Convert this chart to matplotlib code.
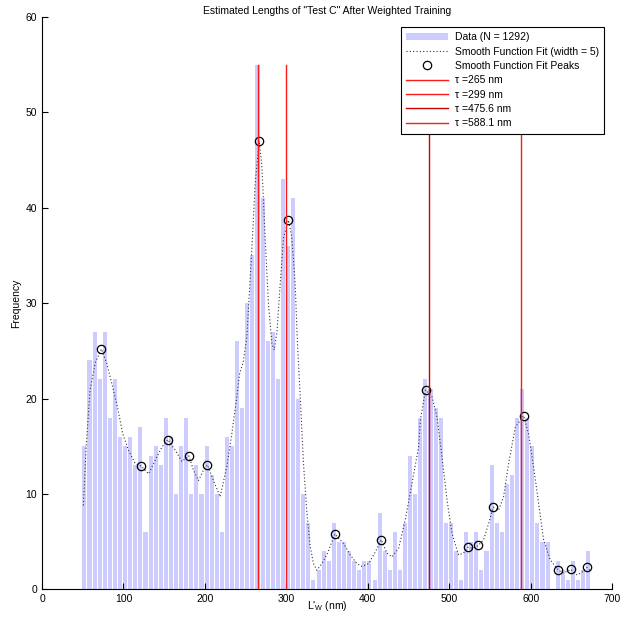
import numpy as np
import matplotlib
matplotlib.use('Agg')
import matplotlib.pyplot as plt

plt.rcParams['font.family'] = ['Liberation Sans', 'DejaVu Sans']
plt.rcParams['mathtext.fontset'] = 'custom'
plt.rcParams['mathtext.rm'] = 'Liberation Sans'
plt.rcParams['mathtext.it'] = 'Liberation Sans:italic'

# histogram counts, 100 bins
counts = [15, 24, 27, 22, 27, 18, 22, 16, 15, 16,
          13, 17, 6, 14, 15, 13, 18, 16, 10, 15,
          18, 10, 13, 10, 15, 12, 10, 6, 16, 15,
          26, 19, 30, 35, 55, 41, 26, 27, 22, 43,
          36, 41, 20, 10, 7, 1, 2, 4, 3, 7,
          5, 5, 4, 3, 2, 3, 3, 1, 8, 4,
          2, 6, 2, 7, 14, 10, 18, 22, 21, 19,
          18, 7, 7, 4, 1, 6, 5, 6, 2, 4,
          13, 7, 6, 11, 12, 18, 21, 18, 15, 7,
          5, 5, 0, 3, 2, 1, 3, 1, 2, 4]
first_center = 52.0
bin_width = 6.25

# smooth fit curve
fit_x = [50.8, 54.1, 59.0, 65.5, 72.9, 79.4, 85.6, 92.6, 99.1, 106.0,
         114.3, 122.0, 130.7, 138.8, 147.0, 154.4, 163.5, 171.6, 180.2, 185.9,
         192.0, 198.2, 203.0, 210.5, 218.7, 226.9, 233.0, 239.2, 242.5, 247.0,
         251.5, 257.6, 261.7, 266.6, 269.9, 274.0, 278.0, 282.2, 285.0, 288.5,
         292.4, 296.5, 302.6, 306.7, 310.8, 313.6, 317.0, 321.0, 325.2, 329.2,
         333.3, 337.4, 343.6, 350.5, 359.6, 370.2, 378.4, 386.6, 392.7, 400.9,
         409.1, 416.5, 423.4, 429.6, 437.8, 446.0, 454.2, 462.3, 464.4, 470.9,
         478.7, 484.9, 491.0, 497.2, 503.3, 511.4, 517.6, 522.5, 529.0, 535.6,
         542.2, 548.3, 554.0, 560.6, 566.7, 572.9, 581.1, 591.3, 597.4, 603.6,
         609.7, 615.8, 624.0, 634.0, 640.4, 649.0, 656.9, 663.0, 668.7, 673.2]
fit_y = [8.8, 14.9, 20.9, 23.8, 25.2, 23.7, 21.6, 19.1, 16.3, 14.6,
         13.2, 12.9, 12.1, 13.5, 14.9, 15.7, 14.6, 13.4, 14.0, 12.5,
         11.4, 12.5, 13.05, 11.4, 9.7, 12.9, 16.3, 20.2, 22.6, 23.8,
         26.5, 35.6, 42.6, 47.0, 44.4, 36.7, 29.9, 25.8, 25.1, 27.0,
         32.0, 36.9, 38.7, 36.9, 32.0, 25.8, 20.2, 13.2, 8.0, 4.5,
         2.7, 2.0, 2.7, 3.8, 5.8, 4.8, 3.6, 2.7, 2.4, 2.7,
         3.9, 5.2, 3.8, 3.4, 4.3, 7.3, 11.1, 14.9, 17.7, 20.9,
         20.2, 18.1, 13.9, 9.4, 5.9, 3.6, 3.8, 4.4, 4.3, 4.6,
         5.2, 6.9, 8.6, 8.3, 9.7, 13.2, 17.0, 18.2, 16.3, 12.8,
         9.0, 5.2, 3.1, 2.0, 1.7, 2.1, 1.5, 1.8, 2.3, 1.95]

peak_x = [72.9, 122.0, 154.4, 180.2, 203.0, 266.6, 302.6, 359.6, 416.5,
          470.9, 522.5, 535.6, 554.0, 591.3, 634.0, 649.0, 668.7]
peak_y = [25.2, 12.9, 15.7, 14.0, 13.05, 47.0, 38.7, 5.8, 5.2,
          20.9, 4.4, 4.6, 8.6, 18.2, 2.0, 2.1, 2.3]

taus = [265, 299, 475.6, 588.1]
tau_labels = ['265', '299', '475.6', '588.1']
tau_colors = ['#ff1a1a', '#ff1a1a', '#d00000', '#ff1a1a']

centers = first_center + bin_width * np.arange(len(counts))

fig = plt.figure(figsize=(6.37, 6.21), dpi=100)
ax = fig.add_axes([0.066, 0.051, 0.895, 0.9216])

bars = ax.bar(centers, counts, width=0.8 * bin_width, color='#ccccff', linewidth=0)
fit_line, = ax.plot(fit_x, fit_y, color='#333333', lw=0.8, linestyle=(0, (1, 2)))
peak_pts, = ax.plot(peak_x, peak_y, 'o', mfc='none', mec='k', ms=6, mew=0.9)

handles = [bars, fit_line, peak_pts]
labels = ['Data (N = %d)' % sum(counts), 'Smooth Function Fit (width = 5)',
          'Smooth Function Fit Peaks']
for t, lab, c in zip(taus, tau_labels, tau_colors):
    ln, = ax.plot([t, t], [0, max(counts)], color=c, lw=1.0)
    handles.append(ln)
    labels.append('\u03c4 =' + lab + ' nm')

ax.set_xlim(0, 700)
ax.set_ylim(0, 60)
ax.set_xticks(range(0, 701, 100))
ax.set_yticks(range(0, 61, 10))
ax.spines['top'].set_visible(False)
ax.spines['right'].set_visible(False)
ax.tick_params(direction='in', length=4, width=0.8, labelsize=7.5)

ax.set_title('Estimated Lengths of "Test C" After Weighted Training', fontsize=7.5, pad=2)
ax.set_xlabel(r"L$'_{\rm W}$ (nm)", fontsize=7.5, labelpad=-4)
ax.set_ylabel('Frequency', fontsize=7.5, labelpad=3)

leg = ax.legend(handles, labels, loc='upper right', bbox_to_anchor=(0.986, 0.9825),
                borderaxespad=0, fontsize=7.5, handlelength=4.0, handletextpad=0.7,
                labelspacing=0.42, borderpad=0.5, fancybox=False, edgecolor='k',
                framealpha=1)
leg.get_frame().set_linewidth(0.8)

fig.savefig('out.png', dpi=100)
